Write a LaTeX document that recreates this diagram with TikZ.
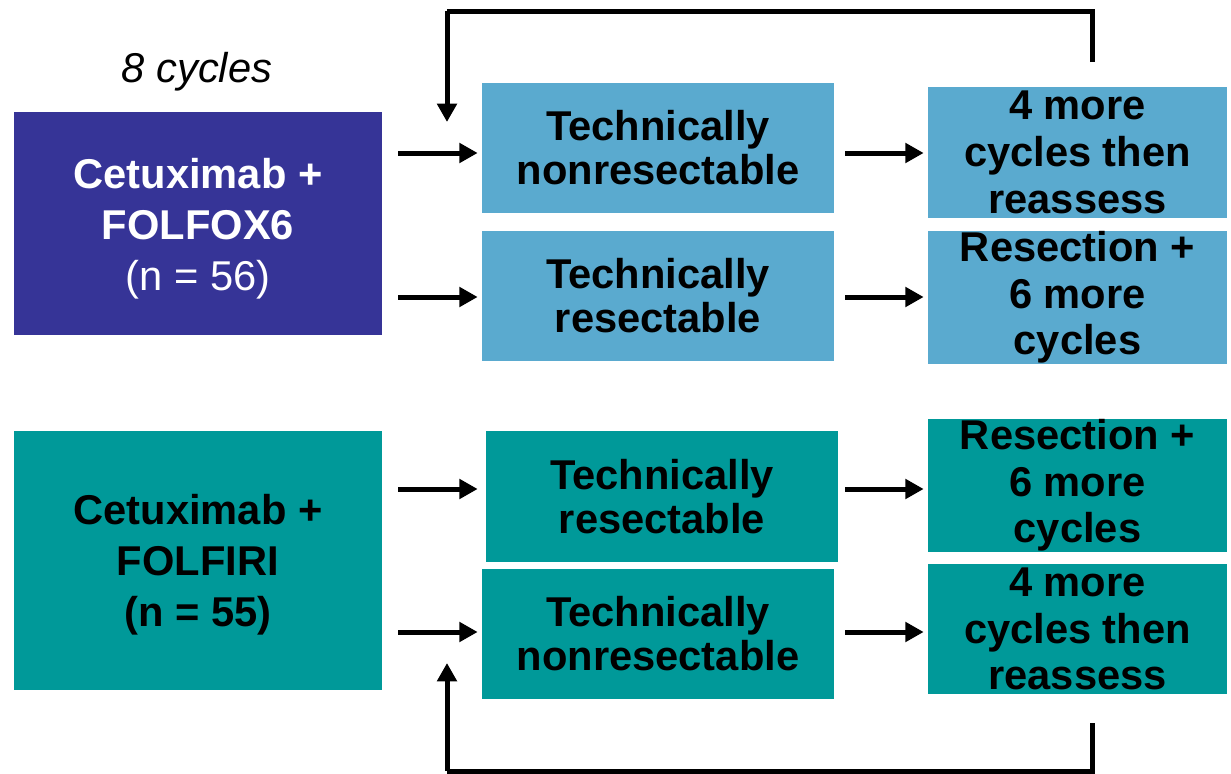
\documentclass[tikz,border=0pt]{standalone}
\usepackage{fontspec}
\setmainfont{Liberation Sans}
\usetikzlibrary{arrows.meta}
\definecolor{arm1}{RGB}{54,52,151}
\definecolor{lightstep}{RGB}{90,170,207}
\definecolor{tealstep}{RGB}{0,153,153}
\tikzset{
  box/.style={rectangle, draw=none, inner sep=0pt, anchor=center, align=center,
    font=\fontsize{25}{28}\selectfont\bfseries},
  armbox/.style={box, minimum width=220.8pt},
  armtext/.style={inner sep=0pt, anchor=center, align=center,
    font=\fontsize{25}{30.6}\selectfont\bfseries},
  midbox/.style={box, minimum width=211.2pt, minimum height=78pt,
    font=\fontsize{25}{26.5}\selectfont\bfseries},
  outbox/.style={box, minimum width=179.4pt, minimum height=78pt},
  arr/.style={line width=3pt, -{Triangle[length=11pt,width=11.5pt]}},
  loopline/.style={line width=3pt}
}
\begin{document}
\begin{tikzpicture}[x=0.6pt, y=-0.6pt]
\useasboundingbox (0,0) rectangle (1231,774);

% treatment arms
\node[armbox, fill=arm1, minimum height=133.8pt] (A) at (198,223.5) {};
\node[armtext, text=white] (Atext) at ([yshift=-3pt]A.center)
  {Cetuximab +\\FOLFOX6\\{\mdseries (n = 56)}};
\node[armbox, fill=tealstep, minimum height=155.4pt] (B) at (198,560.5) {};
\node[armtext, text=black] (Btext) at ([yshift=-2.6pt]B.center)
  {Cetuximab +\\FOLFIRI\\(n = 55)};
\node[font=\fontsize{25}{28}\selectfont\itshape] (cyc) at (197,72) {8 cycles};

% resectability assessment
\node[midbox, fill=lightstep] (tn1) at (658,148) {Technically\\nonresectable};
\node[midbox, fill=lightstep] (tr1) at (658,296) {Technically\\resectable};
\node[midbox, fill=tealstep, minimum height=78.6pt] (tr2) at (662,496.5) {Technically\\resectable};
\node[midbox, fill=tealstep] (tn2) at (658,634) {Technically\\nonresectable};

% outcomes
\node[outbox, fill=lightstep, minimum height=78.6pt] (r1) at (1077.5,152.5) {4 more\\cycles then\\reassess};
\node[outbox, fill=lightstep, minimum height=77.4pt] (r2) at (1077.5,297.5) {Resection +\\6 more\\cycles};
\node[outbox, fill=tealstep, minimum height=77.4pt] (r3) at (1077.5,485.5) {Resection +\\6 more\\cycles};
\node[outbox, fill=tealstep] (r4) at (1077.5,629) {4 more\\cycles then\\reassess};

% arm -> assessment
\draw[arr] ([xshift=9.6pt]A.east |- 0,153) -- ([xshift=-2.4pt]tn1.west |- 0,153);
\draw[arr] ([xshift=9.6pt]A.east |- 0,297) -- ([xshift=-2.4pt]tr1.west |- 0,297);
\draw[arr] ([xshift=9.6pt]B.east |- 0,489) -- ([xshift=-4.8pt]tr2.west |- 0,489);
\draw[arr] ([xshift=9.6pt]B.east |- 0,632) -- ([xshift=-2.4pt]tn2.west |- 0,632);

% assessment -> outcome
\draw[arr] ([xshift=6.6pt]tn1.east |- 0,153) -- ([xshift=-2.4pt]r1.west |- 0,153);
\draw[arr] ([xshift=6.6pt]tr1.east |- 0,297) -- ([xshift=-2.4pt]r2.west |- 0,297);
\draw[arr] ([xshift=4.2pt]tr2.east |- 0,489) -- ([xshift=-2.4pt]r3.west |- 0,489);
\draw[arr] ([xshift=6.6pt]tn2.east |- 0,632) -- ([xshift=-2.4pt]r4.west |- 0,632);

% reassessment loops
\coordinate (top1) at (1092,62);
\coordinate (top2) at (447,11);
\coordinate (top3) at (447,122);
\draw[loopline] (top1) |- (top2);
\draw[arr] (top2) -- (top3);

\coordinate (bot1) at (1092,723);
\coordinate (bot2) at (447,771);
\coordinate (bot3) at (447,663);
\draw[loopline] (bot1) |- (bot2);
\draw[arr] (bot2) -- (bot3);
\end{tikzpicture}
\end{document}
